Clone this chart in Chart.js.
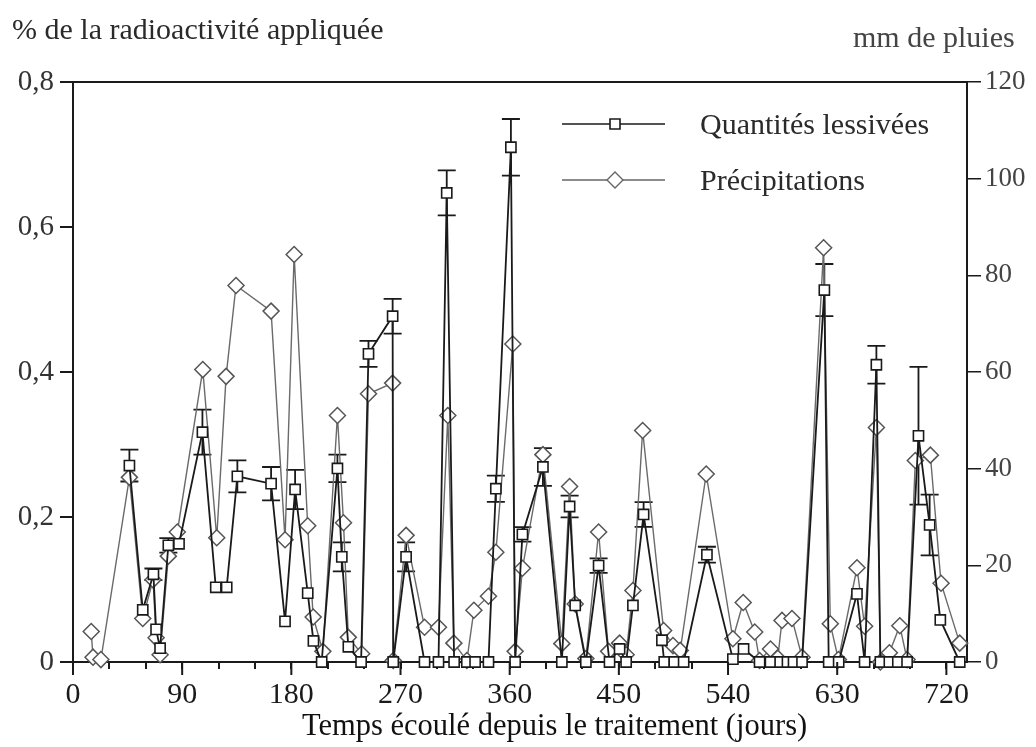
<!DOCTYPE html>
<html>
<head>
<meta charset="utf-8">
<script src="https://cdn.jsdelivr.net/npm/chart.js@4"></script>
<style>
  body { margin: 0; background: #fff; }
  #wrap { position: relative; width: 1036px; height: 747px; }
  .ytitle { position: absolute; font-family: "Liberation Serif", "DejaVu Serif", serif; color: #2a2a2a; white-space: nowrap; line-height: 34px; }
  #leftTitle { left: 12px; top: 12px; font-size: 30px; }
  #rightTitle { left: 853px; top: 20px; font-size: 30px; color: #444; }
  #xTitle { left: 302px; top: 708px; font-size: 30.5px; color: #111; }
</style>
</head>
<body>
<div id="wrap">
  <canvas id="chart" width="1036" height="747"></canvas>
  <div class="ytitle" id="leftTitle">% de la radioactivité appliquée</div>
  <div class="ytitle" id="rightTitle">mm de pluies</div>
  <div class="ytitle" id="xTitle">Temps écoulé depuis le traitement (jours)</div>
</div>
<script>
// Quantités lessivées (% de la radioactivité appliquée), with error bar half-widths
const quantDays = [46.5, 57.5, 66.3, 68.5, 71.8, 78.6, 87.4, 106.7, 117.7, 126.7, 135.5, 163.3, 174.8, 183.1,
  193.5, 198.2, 205, 218, 221.6, 227, 237.5, 243.6, 263.5, 264, 274.6, 289.8, 301.3, 308.1, 314.2, 324.7,
  331.5, 342.5, 348.6, 361, 364.5, 370.5, 387.4, 403, 409.4, 414, 422.8, 433.3, 442.3, 450.6, 456, 461.6,
  470.4, 485.5, 487.4, 495.7, 503.4, 522.6, 544, 552.8, 566, 575, 583, 589, 594, 601, 619.4, 623, 631.2,
  646.3, 652.6, 662.3, 665.6, 673, 680, 687.6, 697, 706.2, 715, 731];
const quantValues = [0.271, 0.072, 0.121, 0.045, 0.019, 0.161, 0.163, 0.317, 0.103, 0.103, 0.256, 0.246, 0.056, 0.238,
  0.095, 0.029, 0, 0.267, 0.145, 0.021, 0, 0.425, 0.477, 0, 0.145, 0, 0, 0.647, 0, 0,
  0, 0, 0.239, 0.71, 0, 0.176, 0.269, 0, 0.2145, 0.078, 0, 0.133, 0, 0.018, 0, 0.078,
  0.2035, 0.03, 0, 0, 0, 0.148, 0.004, 0.018, 0, 0, 0, 0, 0, 0, 0.513, 0, 0,
  0.094, 0, 0.41, 0, 0, 0, 0, 0.312, 0.189, 0.058, 0];
const quantErrors = [0.022, 0, 0.008, 0, 0, 0.01, 0, 0.031, 0, 0, 0.022, 0.023, 0, 0.027,
  0, 0, 0, 0.019, 0.02, 0, 0, 0.018, 0.024, 0, 0.02, 0, 0, 0.031, 0, 0,
  0, 0, 0.018, 0.039, 0, 0.01, 0.026, 0, 0.015, 0, 0, 0.01, 0, 0, 0, 0,
  0.017, 0, 0, 0, 0, 0.011, 0, 0, 0, 0, 0, 0, 0, 0, 0.036, 0, 0,
  0, 0, 0.026, 0, 0, 0, 0, 0.095, 0.042, 0, 0];

// Précipitations (mm de pluies)
const rainDays = [15, 16.5, 23, 46.5, 57.5, 66, 68.5, 71.8, 78.6, 86, 107, 118.5, 126.2, 134.4, 163.3, 174.8,
  182.3, 193.5, 198, 206, 218, 223, 227, 238, 243.6, 263.5, 264, 274.6, 289.8, 301.3, 309, 314, 324.7,
  330.5, 342.5, 348.6, 362.6, 364.5, 370.5, 387.4, 403, 409.4, 414, 422.8, 433.3, 441.5, 450.6, 456,
  461.6, 469.6, 486.9, 494.6, 500.6, 522, 544, 552.5, 562, 566, 575, 581, 584.5, 592.7, 601, 618.8,
  624.3, 631, 646.3, 652.6, 662.3, 665.6, 673, 681.6, 687.6, 694.4, 706.8, 715.6, 731];
const rainValues = [6.3, 1, 0.5, 38.2, 9, 17, 5, 1.5, 21.9, 26.9, 60.5, 25.7, 59.1, 77.9, 72.6, 25.3,
  84.3, 28.2, 9.3, 2.2, 51, 28.8, 5.1, 1.7, 55.5, 57.7, 0.3, 26.2, 7.2, 7.2, 51, 3.9, 0.3,
  10.7, 13.6, 22.7, 65.8, 2.2, 19.4, 42.9, 3.8, 36.3, 12, 0.7, 26.9, 2.2, 3.9, 1.5,
  14.8, 47.9, 6.5, 3.4, 2.4, 38.9, 4.8, 12.3, 6.2, 0.3, 2.7, 0.8, 8.6, 9, 1, 85.7,
  7.9, 0.5, 19.5, 7.4, 48.5, 0, 1.9, 7.5, 0.5, 41.7, 42.8, 16.3, 3.9];

const leftTicks = [0, 0.2, 0.4, 0.6, 0.8];
const rightTicks = [0, 20, 40, 60, 80, 100, 120];

const serif = '"Liberation Serif", "DejaVu Serif", serif';

// error bars drawn from the data through the chart scales
const errorBars = {
  id: 'errorBars',
  beforeDatasetsDraw(chart) {
    const ctx = chart.ctx, xs = chart.scales.x, ys = chart.scales.yLeft;
    ctx.save();
    ctx.strokeStyle = '#1a1a1a';
    ctx.lineWidth = 1.8;
    quantDays.forEach((d, i) => {
      const e = quantErrors[i];
      if (!e) return;
      const px = xs.getPixelForValue(d);
      const top = ys.getPixelForValue(quantValues[i] + e);
      const bot = ys.getPixelForValue(quantValues[i] - e);
      ctx.beginPath();
      ctx.moveTo(px, top); ctx.lineTo(px, bot);
      ctx.moveTo(px - 9, top); ctx.lineTo(px + 9, top);
      ctx.moveTo(px - 9, bot); ctx.lineTo(px + 9, bot);
      ctx.stroke();
    });
    ctx.restore();
  }
};

// top frame line, longer major x ticks, and the legend inside the plot
const frameAndLegend = {
  id: 'frameAndLegend',
  afterDraw(chart) {
    const ctx = chart.ctx, a = chart.chartArea, xs = chart.scales.x;
    ctx.save();
    ctx.strokeStyle = '#1a1a1a';
    ctx.lineWidth = 2;
    ctx.beginPath();
    ctx.moveTo(a.left, a.top); ctx.lineTo(a.right, a.top);
    xs.ticks.forEach(t => {
      if (t.value % 90 !== 0) return;
      const px = xs.getPixelForValue(t.value);
      ctx.moveTo(px, a.bottom); ctx.lineTo(px, a.bottom + 13);
    });
    ctx.stroke();

    const items = [
      { text: 'Quantités lessivées', y: 124, color: '#1a1a1a', lw: 1.6, shape: 'square' },
      { text: 'Précipitations', y: 180, color: '#666', lw: 1.4, shape: 'diamond' }
    ];
    items.forEach(it => {
      ctx.strokeStyle = it.color;
      ctx.lineWidth = it.lw;
      ctx.beginPath();
      ctx.moveTo(562, it.y); ctx.lineTo(665, it.y);
      ctx.stroke();
      ctx.fillStyle = '#fff';
      ctx.beginPath();
      if (it.shape === 'square') {
        ctx.rect(615 - 5, it.y - 5, 10, 10);
      } else {
        ctx.moveTo(615, it.y - 8); ctx.lineTo(623, it.y); ctx.lineTo(615, it.y + 8); ctx.lineTo(607, it.y); ctx.closePath();
      }
      ctx.fill();
      ctx.stroke();
      ctx.fillStyle = '#2a2a2a';
      ctx.font = '30px ' + serif;
      ctx.textBaseline = 'middle';
      ctx.fillText(it.text, 700, it.y + 2);
    });
    ctx.restore();
  }
};

new Chart(document.getElementById('chart'), {
  type: 'line',
  data: {
    datasets: [
      {
        label: 'Quantités lessivées',
        data: quantDays.map((d, i) => ({ x: d, y: quantValues[i] })),
        yAxisID: 'yLeft',
        borderColor: '#1a1a1a',
        borderWidth: 1.8,
        pointStyle: 'rect',
        pointRadius: 7.2,
        pointBorderWidth: 1.6,
        pointBackgroundColor: '#fff',
        pointBorderColor: '#1a1a1a',
        tension: 0,
        clip: 14,
        order: 0
      },
      {
        label: 'Précipitations',
        data: rainDays.map((d, i) => ({ x: d, y: rainValues[i] })),
        yAxisID: 'yRight',
        borderColor: '#6a6a6a',
        borderWidth: 1.4,
        pointStyle: 'rectRot',
        pointRadius: 8,
        pointBorderWidth: 1.5,
        pointBackgroundColor: '#fff',
        pointBorderColor: '#555',
        tension: 0,
        clip: 14,
        order: 1
      }
    ]
  },
  options: {
    responsive: false,
    animation: false,
    devicePixelRatio: 1,
    layout: { padding: { top: 82, left: 0, right: 0, bottom: 0 } },
    plugins: { legend: { display: false }, tooltip: { enabled: false } },
    scales: {
      x: {
        type: 'linear',
        min: 0,
        max: 737,
        afterFit: s => { s.height = 85; },
        border: { display: true, color: '#1a1a1a', width: 2 },
        grid: { drawOnChartArea: false, drawTicks: true, tickLength: 7, color: '#1a1a1a', lineWidth: 2 },
        ticks: {
          stepSize: 30,
          includeBounds: false,
          autoSkip: false,
          maxRotation: 0,
          padding: 8,
          color: '#1a1a1a',
          font: { family: serif, size: 30 },
          callback: v => (v % 90 === 0 ? String(v) : '')
        }
      },
      yLeft: {
        position: 'left',
        min: 0,
        max: 0.8,
        afterFit: s => { s.width = 73; },
        afterBuildTicks: s => { s.ticks = leftTicks.map(v => ({ value: v })); },
        border: { display: true, color: '#1a1a1a', width: 2 },
        grid: { drawOnChartArea: false, drawTicks: true, tickLength: 13, color: '#1a1a1a', lineWidth: 2 },
        ticks: {
          padding: 6,
          color: '#333',
          font: { family: serif, size: 29 },
          callback: v => (v === 0 ? '0' : v.toFixed(1).replace('.', ','))
        }
      },
      yRight: {
        position: 'right',
        min: 0,
        max: 120,
        afterFit: s => { s.width = 69; },
        afterBuildTicks: s => { s.ticks = rightTicks.map(v => ({ value: v })); },
        border: { display: true, color: '#1a1a1a', width: 2 },
        grid: { drawOnChartArea: false, drawTicks: true, tickLength: 14, color: '#1a1a1a', lineWidth: 1.5 },
        ticks: {
          padding: 4,
          color: '#444',
          font: { family: serif, size: 27 },
          callback: v => String(v)
        }
      }
    }
  },
  plugins: [errorBars, frameAndLegend]
});
</script>
</body>
</html>
